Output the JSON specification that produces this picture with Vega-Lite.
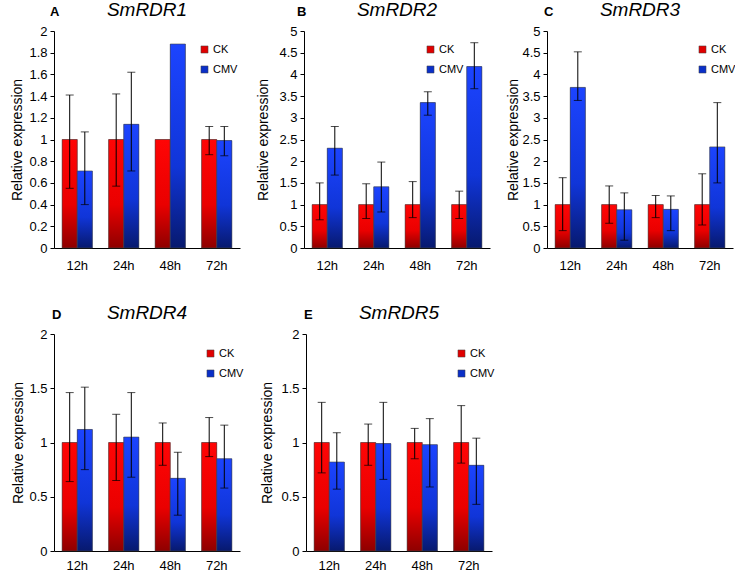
{
  "$schema": "https://vega.github.io/schema/vega-lite/v6.json",
  "padding": {"left": 10, "top": 1, "right": 0, "bottom": 0},
  "background": "white",
  "datasets": {
    "rdr": [
      {"panel": "A", "time": "12h", "series": "CK", "value": 1, "lo": 0.55, "hi": 1.41},
      {"panel": "A", "time": "12h", "series": "CMV", "value": 0.71, "lo": 0.40, "hi": 1.07},
      {"panel": "A", "time": "24h", "series": "CK", "value": 1, "lo": 0.57, "hi": 1.42},
      {"panel": "A", "time": "24h", "series": "CMV", "value": 1.14, "lo": 0.71, "hi": 1.62},
      {"panel": "A", "time": "48h", "series": "CK", "value": 1, "lo": null, "hi": null},
      {"panel": "A", "time": "48h", "series": "CMV", "value": 1.88, "lo": null, "hi": null},
      {"panel": "A", "time": "72h", "series": "CK", "value": 1, "lo": 0.86, "hi": 1.12},
      {"panel": "A", "time": "72h", "series": "CMV", "value": 0.99, "lo": 0.85, "hi": 1.12},
      {"panel": "B", "time": "12h", "series": "CK", "value": 1, "lo": 0.65, "hi": 1.50},
      {"panel": "B", "time": "12h", "series": "CMV", "value": 2.30, "lo": 1.68, "hi": 2.80},
      {"panel": "B", "time": "24h", "series": "CK", "value": 1, "lo": 0.68, "hi": 1.48},
      {"panel": "B", "time": "24h", "series": "CMV", "value": 1.41, "lo": 0.83, "hi": 1.98},
      {"panel": "B", "time": "48h", "series": "CK", "value": 1, "lo": 0.70, "hi": 1.53},
      {"panel": "B", "time": "48h", "series": "CMV", "value": 3.35, "lo": 3.06, "hi": 3.60},
      {"panel": "B", "time": "72h", "series": "CK", "value": 1, "lo": 0.68, "hi": 1.31},
      {"panel": "B", "time": "72h", "series": "CMV", "value": 4.18, "lo": 3.67, "hi": 4.73},
      {"panel": "C", "time": "12h", "series": "CK", "value": 1, "lo": 0.40, "hi": 1.62},
      {"panel": "C", "time": "12h", "series": "CMV", "value": 3.70, "lo": 3.40, "hi": 4.52},
      {"panel": "C", "time": "24h", "series": "CK", "value": 1, "lo": 0.57, "hi": 1.43},
      {"panel": "C", "time": "24h", "series": "CMV", "value": 0.88, "lo": 0.18, "hi": 1.27},
      {"panel": "C", "time": "48h", "series": "CK", "value": 1, "lo": 0.70, "hi": 1.21},
      {"panel": "C", "time": "48h", "series": "CMV", "value": 0.89, "lo": 0.40, "hi": 1.20},
      {"panel": "C", "time": "72h", "series": "CK", "value": 1, "lo": 0.53, "hi": 1.71},
      {"panel": "C", "time": "72h", "series": "CMV", "value": 2.33, "lo": 1.50, "hi": 3.35},
      {"panel": "D", "time": "12h", "series": "CK", "value": 1, "lo": 0.64, "hi": 1.46},
      {"panel": "D", "time": "12h", "series": "CMV", "value": 1.12, "lo": 0.75, "hi": 1.51},
      {"panel": "D", "time": "24h", "series": "CK", "value": 1, "lo": 0.65, "hi": 1.26},
      {"panel": "D", "time": "24h", "series": "CMV", "value": 1.05, "lo": 0.68, "hi": 1.46},
      {"panel": "D", "time": "48h", "series": "CK", "value": 1, "lo": 0.79, "hi": 1.18},
      {"panel": "D", "time": "48h", "series": "CMV", "value": 0.67, "lo": 0.33, "hi": 0.91},
      {"panel": "D", "time": "72h", "series": "CK", "value": 1, "lo": 0.87, "hi": 1.23},
      {"panel": "D", "time": "72h", "series": "CMV", "value": 0.85, "lo": 0.58, "hi": 1.16},
      {"panel": "E", "time": "12h", "series": "CK", "value": 1, "lo": 0.72, "hi": 1.37},
      {"panel": "E", "time": "12h", "series": "CMV", "value": 0.82, "lo": 0.57, "hi": 1.09},
      {"panel": "E", "time": "24h", "series": "CK", "value": 1, "lo": 0.79, "hi": 1.17},
      {"panel": "E", "time": "24h", "series": "CMV", "value": 0.99, "lo": 0.66, "hi": 1.37},
      {"panel": "E", "time": "48h", "series": "CK", "value": 1, "lo": 0.85, "hi": 1.13},
      {"panel": "E", "time": "48h", "series": "CMV", "value": 0.98, "lo": 0.59, "hi": 1.22},
      {"panel": "E", "time": "72h", "series": "CK", "value": 1, "lo": 0.81, "hi": 1.34},
      {"panel": "E", "time": "72h", "series": "CMV", "value": 0.79, "lo": 0.43, "hi": 1.04}
    ]
  },
  "spacing": 32,
  "vconcat": [
    {
      "spacing": 16,
      "hconcat": [
        {
          "title": {"text": "A", "anchor": "start", "frame": "group", "fontSize": 13, "fontStyle": "normal", "fontWeight": "bold", "dx": -4, "dy": 18, "offset": 0},
          "resolve": {"scale": {"color": "independent"}, "legend": {"color": "independent"}},
          "hconcat": [{
            "width": 186, "height": 217,
            "title": {"text": "SmRDR1"},
            "data": {"name": "rdr"},
            "transform": [{"filter": "datum.panel === 'A'"}],
            "encoding": {
              "x": {"field": "time", "type": "nominal", "sort": ["12h", "24h", "48h", "72h"], "scale": {"paddingInner": 0.35, "paddingOuter": 0.175}, "axis": {"title": null, "labelAngle": 0, "ticks": false, "labelPadding": 11}},
              "xOffset": {"field": "series", "type": "nominal", "sort": ["CK", "CMV"], "scale": {"paddingInner": 0}}
            },
            "layer": [
              {"mark": {"type": "bar"}, "encoding": {"y": {"field": "value", "type": "quantitative", "scale": {"domain": [0, 2], "nice": false}, "axis": {"title": "Relative expression", "titlePadding": 4, "values": [0, 0.2, 0.4, 0.6, 0.8, 1, 1.2, 1.4, 1.6, 1.8, 2], "format": "~g"}}, "color": {"field": "series", "type": "nominal", "scale": {"domain": ["CK", "CMV"], "range": ["#e00000", "#0a2fc8"]}, "legend": {"title": null, "orient": "none", "legendX": 145, "legendY": 13}}}},
              {"mark": {"type": "bar", "stroke": "#444", "strokeWidth": 0.6}, "encoding": {"y": {"field": "value", "type": "quantitative", "axis": {"title": "Relative expression", "titlePadding": 4, "values": [0, 0.2, 0.4, 0.6, 0.8, 1, 1.2, 1.4, 1.6, 1.8, 2], "format": "~g"}}, "fill": {"condition": {"test": "datum.series === 'CK'", "value": {"gradient": "linear", "x1": 0, "y1": 0, "x2": 0, "y2": 1, "stops": [{"offset": 0, "color": "#ff0505"}, {"offset": 0.6, "color": "#ea0000"}, {"offset": 1, "color": "#8e0000"}]}}, "value": {"gradient": "linear", "x1": 0, "y1": 0, "x2": 0, "y2": 1, "stops": [{"offset": 0, "color": "#1c44ff"}, {"offset": 0.6, "color": "#1035d8"}, {"offset": 1, "color": "#07196e"}]}}}},
              {"transform": [{"filter": "isValid(datum.lo)"}], "mark": {"type": "rule", "color": "black", "strokeWidth": 1}, "encoding": {"y": {"field": "lo", "type": "quantitative", "axis": {"title": "Relative expression", "titlePadding": 4, "values": [0, 0.2, 0.4, 0.6, 0.8, 1, 1.2, 1.4, 1.6, 1.8, 2], "format": "~g"}}, "y2": {"field": "hi"}}},
              {"transform": [{"filter": "isValid(datum.lo)"}], "mark": {"type": "tick", "color": "black", "size": 8, "thickness": 1}, "encoding": {"y": {"field": "lo", "type": "quantitative", "axis": {"title": "Relative expression", "titlePadding": 4, "values": [0, 0.2, 0.4, 0.6, 0.8, 1, 1.2, 1.4, 1.6, 1.8, 2], "format": "~g"}}}},
              {"transform": [{"filter": "isValid(datum.hi)"}], "mark": {"type": "tick", "color": "black", "size": 8, "thickness": 1}, "encoding": {"y": {"field": "hi", "type": "quantitative", "axis": {"title": "Relative expression", "titlePadding": 4, "values": [0, 0.2, 0.4, 0.6, 0.8, 1, 1.2, 1.4, 1.6, 1.8, 2], "format": "~g"}}}}
            ]
          }]
        },
        {
          "title": {"text": "B", "anchor": "start", "frame": "group", "fontSize": 13, "fontStyle": "normal", "fontWeight": "bold", "dx": -7, "dy": 18, "offset": 0},
          "resolve": {"scale": {"color": "independent"}, "legend": {"color": "independent"}},
          "hconcat": [{
            "width": 186, "height": 217,
            "title": {"text": "SmRDR2"},
            "data": {"name": "rdr"},
            "transform": [{"filter": "datum.panel === 'B'"}],
            "encoding": {
              "x": {"field": "time", "type": "nominal", "sort": ["12h", "24h", "48h", "72h"], "scale": {"paddingInner": 0.35, "paddingOuter": 0.175}, "axis": {"title": null, "labelAngle": 0, "ticks": false, "labelPadding": 11}},
              "xOffset": {"field": "series", "type": "nominal", "sort": ["CK", "CMV"], "scale": {"paddingInner": 0}}
            },
            "layer": [
              {"mark": {"type": "bar"}, "encoding": {"y": {"field": "value", "type": "quantitative", "scale": {"domain": [0, 5], "nice": false}, "axis": {"title": "Relative expression", "titlePadding": 8, "values": [0, 0.5, 1, 1.5, 2, 2.5, 3, 3.5, 4, 4.5, 5], "format": "~g"}}, "color": {"field": "series", "type": "nominal", "scale": {"domain": ["CK", "CMV"], "range": ["#e00000", "#0a2fc8"]}, "legend": {"title": null, "orient": "none", "legendX": 121, "legendY": 13}}}},
              {"mark": {"type": "bar", "stroke": "#444", "strokeWidth": 0.6}, "encoding": {"y": {"field": "value", "type": "quantitative", "axis": {"title": "Relative expression", "titlePadding": 8, "values": [0, 0.5, 1, 1.5, 2, 2.5, 3, 3.5, 4, 4.5, 5], "format": "~g"}}, "fill": {"condition": {"test": "datum.series === 'CK'", "value": {"gradient": "linear", "x1": 0, "y1": 0, "x2": 0, "y2": 1, "stops": [{"offset": 0, "color": "#ff0505"}, {"offset": 0.6, "color": "#ea0000"}, {"offset": 1, "color": "#8e0000"}]}}, "value": {"gradient": "linear", "x1": 0, "y1": 0, "x2": 0, "y2": 1, "stops": [{"offset": 0, "color": "#1c44ff"}, {"offset": 0.6, "color": "#1035d8"}, {"offset": 1, "color": "#07196e"}]}}}},
              {"transform": [{"filter": "isValid(datum.lo)"}], "mark": {"type": "rule", "color": "black", "strokeWidth": 1}, "encoding": {"y": {"field": "lo", "type": "quantitative", "axis": {"title": "Relative expression", "titlePadding": 8, "values": [0, 0.5, 1, 1.5, 2, 2.5, 3, 3.5, 4, 4.5, 5], "format": "~g"}}, "y2": {"field": "hi"}}},
              {"transform": [{"filter": "isValid(datum.lo)"}], "mark": {"type": "tick", "color": "black", "size": 8, "thickness": 1}, "encoding": {"y": {"field": "lo", "type": "quantitative", "axis": {"title": "Relative expression", "titlePadding": 8, "values": [0, 0.5, 1, 1.5, 2, 2.5, 3, 3.5, 4, 4.5, 5], "format": "~g"}}}},
              {"transform": [{"filter": "isValid(datum.hi)"}], "mark": {"type": "tick", "color": "black", "size": 8, "thickness": 1}, "encoding": {"y": {"field": "hi", "type": "quantitative", "axis": {"title": "Relative expression", "titlePadding": 8, "values": [0, 0.5, 1, 1.5, 2, 2.5, 3, 3.5, 4, 4.5, 5], "format": "~g"}}}}
            ]
          }]
        },
        {
          "title": {"text": "C", "anchor": "start", "frame": "group", "fontSize": 13, "fontStyle": "normal", "fontWeight": "bold", "dx": -3, "dy": 18, "offset": 0},
          "resolve": {"scale": {"color": "independent"}, "legend": {"color": "independent"}},
          "hconcat": [{
            "width": 186, "height": 217,
            "title": {"text": "SmRDR3"},
            "data": {"name": "rdr"},
            "transform": [{"filter": "datum.panel === 'C'"}],
            "encoding": {
              "x": {"field": "time", "type": "nominal", "sort": ["12h", "24h", "48h", "72h"], "scale": {"paddingInner": 0.35, "paddingOuter": 0.175}, "axis": {"title": null, "labelAngle": 0, "ticks": false, "labelPadding": 11}},
              "xOffset": {"field": "series", "type": "nominal", "sort": ["CK", "CMV"], "scale": {"paddingInner": 0}}
            },
            "layer": [
              {"mark": {"type": "bar"}, "encoding": {"y": {"field": "value", "type": "quantitative", "scale": {"domain": [0, 5], "nice": false}, "axis": {"title": "Relative expression", "titlePadding": 1, "values": [0, 0.5, 1, 1.5, 2, 2.5, 3, 3.5, 4, 4.5, 5], "format": "~g"}}, "color": {"field": "series", "type": "nominal", "scale": {"domain": ["CK", "CMV"], "range": ["#e00000", "#0a2fc8"]}, "legend": {"title": null, "orient": "none", "legendX": 150, "legendY": 13}}}},
              {"mark": {"type": "bar", "stroke": "#444", "strokeWidth": 0.6}, "encoding": {"y": {"field": "value", "type": "quantitative", "axis": {"title": "Relative expression", "titlePadding": 1, "values": [0, 0.5, 1, 1.5, 2, 2.5, 3, 3.5, 4, 4.5, 5], "format": "~g"}}, "fill": {"condition": {"test": "datum.series === 'CK'", "value": {"gradient": "linear", "x1": 0, "y1": 0, "x2": 0, "y2": 1, "stops": [{"offset": 0, "color": "#ff0505"}, {"offset": 0.6, "color": "#ea0000"}, {"offset": 1, "color": "#8e0000"}]}}, "value": {"gradient": "linear", "x1": 0, "y1": 0, "x2": 0, "y2": 1, "stops": [{"offset": 0, "color": "#1c44ff"}, {"offset": 0.6, "color": "#1035d8"}, {"offset": 1, "color": "#07196e"}]}}}},
              {"transform": [{"filter": "isValid(datum.lo)"}], "mark": {"type": "rule", "color": "black", "strokeWidth": 1}, "encoding": {"y": {"field": "lo", "type": "quantitative", "axis": {"title": "Relative expression", "titlePadding": 1, "values": [0, 0.5, 1, 1.5, 2, 2.5, 3, 3.5, 4, 4.5, 5], "format": "~g"}}, "y2": {"field": "hi"}}},
              {"transform": [{"filter": "isValid(datum.lo)"}], "mark": {"type": "tick", "color": "black", "size": 8, "thickness": 1}, "encoding": {"y": {"field": "lo", "type": "quantitative", "axis": {"title": "Relative expression", "titlePadding": 1, "values": [0, 0.5, 1, 1.5, 2, 2.5, 3, 3.5, 4, 4.5, 5], "format": "~g"}}}},
              {"transform": [{"filter": "isValid(datum.hi)"}], "mark": {"type": "tick", "color": "black", "size": 8, "thickness": 1}, "encoding": {"y": {"field": "hi", "type": "quantitative", "axis": {"title": "Relative expression", "titlePadding": 1, "values": [0, 0.5, 1, 1.5, 2, 2.5, 3, 3.5, 4, 4.5, 5], "format": "~g"}}}}
            ]
          }]
        }
      ],
      "resolve": {"scale": {"color": "independent", "y": "independent", "x": "independent", "xOffset": "independent"}, "legend": {"color": "independent"}}
    },
    {
      "spacing": 16,
      "hconcat": [
        {
          "title": {"text": "D", "anchor": "start", "frame": "group", "fontSize": 13, "fontStyle": "normal", "fontWeight": "bold", "dx": -2, "dy": 18, "offset": 0},
          "resolve": {"scale": {"color": "independent"}, "legend": {"color": "independent"}},
          "hconcat": [{
            "width": 186, "height": 217,
            "title": {"text": "SmRDR4"},
            "data": {"name": "rdr"},
            "transform": [{"filter": "datum.panel === 'D'"}],
            "encoding": {
              "x": {"field": "time", "type": "nominal", "sort": ["12h", "24h", "48h", "72h"], "scale": {"paddingInner": 0.35, "paddingOuter": 0.175}, "axis": {"title": null, "labelAngle": 0, "ticks": false, "labelPadding": 8}},
              "xOffset": {"field": "series", "type": "nominal", "sort": ["CK", "CMV"], "scale": {"paddingInner": 0}}
            },
            "layer": [
              {"mark": {"type": "bar"}, "encoding": {"y": {"field": "value", "type": "quantitative", "scale": {"domain": [0, 2], "nice": false}, "axis": {"title": "Relative expression", "titlePadding": 3, "values": [0, 0.5, 1, 1.5, 2], "format": "~g"}}, "color": {"field": "series", "type": "nominal", "scale": {"domain": ["CK", "CMV"], "range": ["#e00000", "#0a2fc8"]}, "legend": {"title": null, "orient": "none", "legendX": 151, "legendY": 14}}}},
              {"mark": {"type": "bar", "stroke": "#444", "strokeWidth": 0.6}, "encoding": {"y": {"field": "value", "type": "quantitative", "axis": {"title": "Relative expression", "titlePadding": 3, "values": [0, 0.5, 1, 1.5, 2], "format": "~g"}}, "fill": {"condition": {"test": "datum.series === 'CK'", "value": {"gradient": "linear", "x1": 0, "y1": 0, "x2": 0, "y2": 1, "stops": [{"offset": 0, "color": "#ff0505"}, {"offset": 0.6, "color": "#ea0000"}, {"offset": 1, "color": "#8e0000"}]}}, "value": {"gradient": "linear", "x1": 0, "y1": 0, "x2": 0, "y2": 1, "stops": [{"offset": 0, "color": "#1c44ff"}, {"offset": 0.6, "color": "#1035d8"}, {"offset": 1, "color": "#07196e"}]}}}},
              {"transform": [{"filter": "isValid(datum.lo)"}], "mark": {"type": "rule", "color": "black", "strokeWidth": 1}, "encoding": {"y": {"field": "lo", "type": "quantitative", "axis": {"title": "Relative expression", "titlePadding": 3, "values": [0, 0.5, 1, 1.5, 2], "format": "~g"}}, "y2": {"field": "hi"}}},
              {"transform": [{"filter": "isValid(datum.lo)"}], "mark": {"type": "tick", "color": "black", "size": 8, "thickness": 1}, "encoding": {"y": {"field": "lo", "type": "quantitative", "axis": {"title": "Relative expression", "titlePadding": 3, "values": [0, 0.5, 1, 1.5, 2], "format": "~g"}}}},
              {"transform": [{"filter": "isValid(datum.hi)"}], "mark": {"type": "tick", "color": "black", "size": 8, "thickness": 1}, "encoding": {"y": {"field": "hi", "type": "quantitative", "axis": {"title": "Relative expression", "titlePadding": 3, "values": [0, 0.5, 1, 1.5, 2], "format": "~g"}}}}
            ]
          }]
        },
        {
          "title": {"text": "E", "anchor": "start", "frame": "group", "fontSize": 13, "fontStyle": "normal", "fontWeight": "bold", "dx": -2, "dy": 18, "offset": 0},
          "resolve": {"scale": {"color": "independent"}, "legend": {"color": "independent"}},
          "hconcat": [{
            "width": 186, "height": 217,
            "title": {"text": "SmRDR5"},
            "data": {"name": "rdr"},
            "transform": [{"filter": "datum.panel === 'E'"}],
            "encoding": {
              "x": {"field": "time", "type": "nominal", "sort": ["12h", "24h", "48h", "72h"], "scale": {"paddingInner": 0.35, "paddingOuter": 0.175}, "axis": {"title": null, "labelAngle": 0, "ticks": false, "labelPadding": 8}},
              "xOffset": {"field": "series", "type": "nominal", "sort": ["CK", "CMV"], "scale": {"paddingInner": 0}}
            },
            "layer": [
              {"mark": {"type": "bar"}, "encoding": {"y": {"field": "value", "type": "quantitative", "scale": {"domain": [0, 2], "nice": false}, "axis": {"title": "Relative expression", "titlePadding": 6, "values": [0, 0.5, 1, 1.5, 2], "format": "~g"}}, "color": {"field": "series", "type": "nominal", "scale": {"domain": ["CK", "CMV"], "range": ["#e00000", "#0a2fc8"]}, "legend": {"title": null, "orient": "none", "legendX": 150, "legendY": 14}}}},
              {"mark": {"type": "bar", "stroke": "#444", "strokeWidth": 0.6}, "encoding": {"y": {"field": "value", "type": "quantitative", "axis": {"title": "Relative expression", "titlePadding": 6, "values": [0, 0.5, 1, 1.5, 2], "format": "~g"}}, "fill": {"condition": {"test": "datum.series === 'CK'", "value": {"gradient": "linear", "x1": 0, "y1": 0, "x2": 0, "y2": 1, "stops": [{"offset": 0, "color": "#ff0505"}, {"offset": 0.6, "color": "#ea0000"}, {"offset": 1, "color": "#8e0000"}]}}, "value": {"gradient": "linear", "x1": 0, "y1": 0, "x2": 0, "y2": 1, "stops": [{"offset": 0, "color": "#1c44ff"}, {"offset": 0.6, "color": "#1035d8"}, {"offset": 1, "color": "#07196e"}]}}}},
              {"transform": [{"filter": "isValid(datum.lo)"}], "mark": {"type": "rule", "color": "black", "strokeWidth": 1}, "encoding": {"y": {"field": "lo", "type": "quantitative", "axis": {"title": "Relative expression", "titlePadding": 6, "values": [0, 0.5, 1, 1.5, 2], "format": "~g"}}, "y2": {"field": "hi"}}},
              {"transform": [{"filter": "isValid(datum.lo)"}], "mark": {"type": "tick", "color": "black", "size": 8, "thickness": 1}, "encoding": {"y": {"field": "lo", "type": "quantitative", "axis": {"title": "Relative expression", "titlePadding": 6, "values": [0, 0.5, 1, 1.5, 2], "format": "~g"}}}},
              {"transform": [{"filter": "isValid(datum.hi)"}], "mark": {"type": "tick", "color": "black", "size": 8, "thickness": 1}, "encoding": {"y": {"field": "hi", "type": "quantitative", "axis": {"title": "Relative expression", "titlePadding": 6, "values": [0, 0.5, 1, 1.5, 2], "format": "~g"}}}}
            ]
          }]
        }
      ],
      "resolve": {"scale": {"color": "independent", "y": "independent", "x": "independent", "xOffset": "independent"}, "legend": {"color": "independent"}}
    }
  ],
  "resolve": {"scale": {"color": "independent", "y": "independent", "x": "independent", "xOffset": "independent"}, "legend": {"color": "independent"}},
  "config": {
    "font": "Liberation Sans",
    "view": {"stroke": null},
    "title": {"fontSize": 19, "fontStyle": "italic", "fontWeight": "normal", "color": "black", "offset": 5, "anchor": "middle"},
    "axis": {"grid": false, "domainColor": "black", "tickColor": "black", "labelColor": "black", "titleColor": "black", "labelFontSize": 13, "titleFontSize": 14, "titleFontWeight": "normal", "tickSize": 4, "labelPadding": 3, "domainWidth": 1, "labelOverlap": false},
    "legend": {"symbolType": "square", "symbolSize": 50, "symbolStrokeColor": "#444", "symbolStrokeWidth": 0.5, "labelFontSize": 11, "labelColor": "black", "rowPadding": 8, "labelOffset": 3, "padding": 0}
  }
}
